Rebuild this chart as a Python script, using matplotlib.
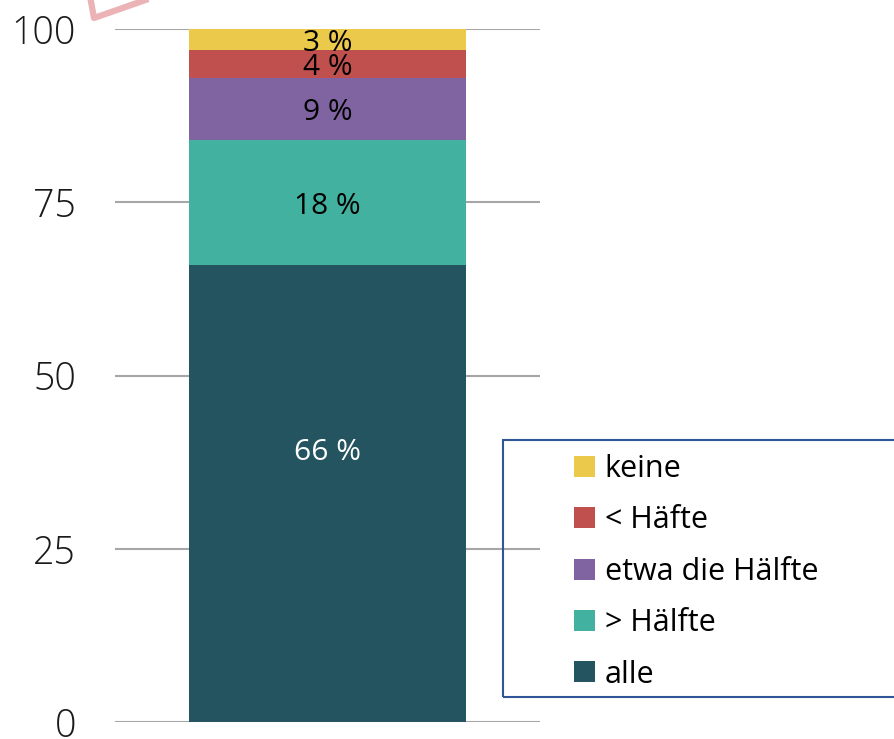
import matplotlib
matplotlib.use("Agg")
import matplotlib.pyplot as plt
from matplotlib.patches import Rectangle, Polygon

plt.rcParams['font.family'] = ['Open Sans', 'DejaVu Sans']

categories = ["alle", "> Hälfte", "etwa die Hälfte", "< Häfte", "keine"]
values = [66, 18, 9, 4, 3]
colors = ["#255461", "#42B19F", "#8064A2", "#C0504D", "#EBC94A"]
label_colors = ["white", "black", "black", "black", "black"]
label_pos = [39.5, None, None, None, None]  # first label sits below segment centre in the original
yticks = [0, 25, 50, 75, 100]

W, H = 894, 739
fig = plt.figure(figsize=(W / 100, H / 100), dpi=100)
ax = fig.add_axes([115 / W, 1 - 722 / H, (540 - 115) / W, (722 - 29) / H])

bottom = 0
handles = []
for cat, v, c, lc, lp in zip(categories, values, colors, label_colors, label_pos):
    b = ax.bar(0, v, width=0.65, bottom=bottom, color=c, label=cat, zorder=3)
    handles.append(b)
    ypos = lp if lp is not None else bottom + v / 2
    ax.annotate(f"{v} %", (0, ypos), xytext=(0, -3), textcoords="offset points",
                ha="center", va="center", fontsize=21.5, color=lc, zorder=4)
    bottom += v

ax.set_xlim(-0.5, 0.5)
ax.set_ylim(0, 100)
ax.set_yticks(yticks)
ax.set_yticklabels([str(t) for t in yticks], fontsize=27, color="#1a1a1a",
                   fontweight="light")
ax.tick_params(axis="y", length=0, pad=28)
ax.tick_params(axis="x", length=0, labelbottom=False)
ax.yaxis.grid(True, color="#a6a6a6", linewidth=1.5, zorder=0)
for s in ax.spines.values():
    s.set_visible(False)

# legend frame (extends beyond right edge)
fig.patches.append(Rectangle((503 / W, 1 - 697 / H), (W + 20 - 503) / W, (697 - 440) / H,
                             transform=fig.transFigure, fill=False,
                             edgecolor="#2F5597", linewidth=1.5))
leg = fig.legend(handles[::-1], categories[::-1], loc="upper left",
                 bbox_to_anchor=(546.5 / W, 1 - 426.5 / H), frameon=False,
                 fontsize=22, handlelength=0.68, handleheight=0.68,
                 handletextpad=0.33, labelspacing=0.70)

# partial pink stamp at top-left
fig.patches.append(Polygon([(88 / W, 1.02), (94 / W, 1 - 18 / H), (230 / W, 1.04)],
                           closed=False, fill=False, edgecolor="#EBB3B5", linewidth=4.5,
                           transform=fig.transFigure, joinstyle="round"))

fig.savefig("out.png", dpi=100)
